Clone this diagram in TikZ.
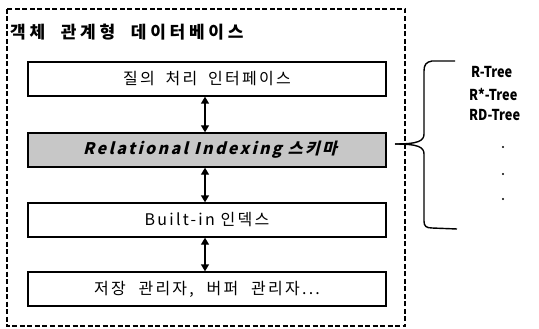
\documentclass[tikz,border=0pt]{standalone}
\usepackage{fontspec}
\setmainfont{Noto Sans CJK KR}
\newfontfamily\krsp[LetterSpace=14]{Noto Sans CJK KR}
\newfontfamily\krtt[LetterSpace=22]{Noto Sans CJK KR}
\newfontfamily\krit[LetterSpace=15,FakeSlant=0.25]{Noto Sans CJK KR}
\usetikzlibrary{arrows.meta}
\begin{document}
\begin{tikzpicture}[x=1pt,y=-1pt,
  layer/.style={draw=black,line width=1.4pt,minimum width=358pt,minimum height=34pt,inner sep=0pt,font=\krsp\fontsize{16pt}{18pt}\selectfont},
  link/.style={line width=1.4pt,{Triangle[width=8pt,length=7pt]}-{Triangle[width=8pt,length=7pt]}},
  frame/.style={draw=black,line width=1.1pt,dash pattern=on 5pt off 2.5pt},
  brace/.style={line width=1.4pt},
  tree/.style={anchor=west,inner sep=0pt,font=\bfseries\fontsize{15pt}{17pt}\selectfont},
  dot/.style={circle,fill=black,inner sep=0pt,minimum size=2.4pt}]
\useasboundingbox (0,0) rectangle (539,329);
\draw[frame] (7,9) rectangle (405,326);
\node[anchor=west,inner sep=0pt,font=\bfseries\krtt\fontsize{17pt}{19pt}\selectfont] (title) at (10,32) {객체\hspace{8pt} 관계형\hspace{8pt} 데이터베이스};
\node[layer] (q) at (207,79) {질의\hspace{5pt} 처리\hspace{5pt} 인터페이스};
\node[layer,fill=black!22,font=\bfseries\krit\fontsize{16pt}{18pt}\selectfont] (r) at (207,150) {\hspace{6pt}Relational Indexing 스키마};
\node[layer] (b) at (207,220) {Built-in 인덱스};
\node[layer] (s) at (207,289) {저장\hspace{7pt} 관리자,\hspace{7pt} 버퍼\hspace{7pt} 관리자...};
\draw[link] ([xshift=-2pt]q.south) -- ([xshift=-2pt]r.north);
\draw[link] ([xshift=-2pt]r.south) -- ([xshift=-2pt]b.north);
\draw[link] ([xshift=-2pt]b.south) -- ([xshift=-2pt]s.north);
\draw[brace] (455,61) -- (432,61) .. controls (426,62) and (424,65) .. (424,71) -- (424,134) .. controls (424,141) and (418,144) .. (395,144);
\draw[brace] (395,144) .. controls (418,144) and (424,147) .. (424,154) -- (424,221) .. controls (424,226) and (426,228) .. (432,228) -- (457,229);
\node[tree] (t1) at (471,72) {\scalebox{0.85}[1]{R-Tree}};
\node[tree] (t2) at (469,94) {\scalebox{0.85}[1]{R*-Tree}};
\node[tree] (t3) at (469,115) {\scalebox{0.85}[1]{RD-Tree}};
\node[dot] (d1) at (503,147) {};
\node[dot] (d2) at (503,174) {};
\node[dot] (d3) at (503,199) {};
\end{tikzpicture}
\end{document}
